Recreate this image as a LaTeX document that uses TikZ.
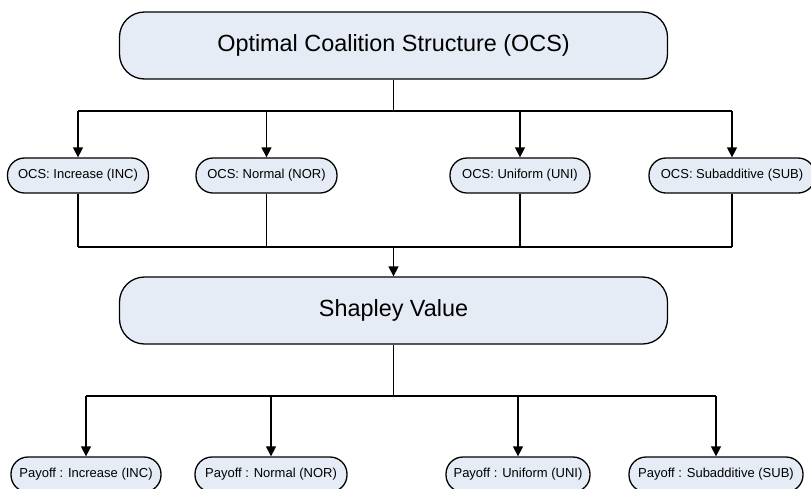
\documentclass[tikz,border=0pt]{standalone}
\usepackage{fontspec}
\setmainfont{Liberation Sans}
\usetikzlibrary{arrows.meta}
\definecolor{boxfill}{RGB}{230,236,246}
\begin{document}
\begin{tikzpicture}[x=1pt,y=-1pt,
 bigbox/.style={draw=black, line width=1.3pt, fill=boxfill, rounded corners=25pt, minimum width=548pt, minimum height=67pt, inner sep=0pt, font=\fontsize{23.4}{28}\selectfont},
 smallbox/.style={draw=black, line width=1.3pt, fill=boxfill, rounded corners=17pt, minimum height=35pt, inner sep=0pt, font=\fontsize{13}{15}\selectfont},
 conn/.style={line width=1.3pt},
 arr/.style={conn, -{Triangle[length=10pt,width=10pt]}}]
\useasboundingbox (0,0) rectangle (811,488);
\node[bigbox] (ocs) at (393.5,45.5) {Optimal Coalition Structure (OCS)};
\node[smallbox, minimum width=141pt] (inc) at (78,175.5) {OCS: Increase (INC)};
\node[smallbox, minimum width=141pt] (nor) at (266.5,175.5) {OCS: Normal (NOR)};
\node[smallbox, minimum width=140pt] (uni) at (520,175.5) {OCS: Uniform (UNI)};
\node[smallbox, minimum width=166pt] (sub) at (732,175.5) {OCS: Subadditive (SUB)};
\node[bigbox] (sv) at (393.5,310.5) {Shapley Value};
\node[smallbox, minimum width=150pt] (pinc) at (86,474.5) {Payoff : Increase (INC)};
\node[smallbox, minimum width=152pt] (pnor) at (271,474.5) {Payoff : Normal (NOR)};
\node[smallbox, minimum width=144pt] (puni) at (518,474.5) {Payoff : Uniform (UNI)};
\node[smallbox, minimum width=174pt] (psub) at (716,474.5) {Payoff : Subadditive (SUB)};
\coordinate (s1) at (393.5,111);
\coordinate (s2) at (393.5,247);
\coordinate (s3) at (393.5,396);
% top split
\draw[conn] (ocs.south) -- (s1);
\draw[conn] (inc.north |- s1) -- (sub.north |- s1);
\foreach \n in {inc,nor,uni,sub} \draw[arr] (\n.north |- s1) -- (\n.north);
% collector
\foreach \n in {inc,nor,uni,sub} \draw[conn] (\n.south) -- (\n.south |- s2);
\draw[conn] (inc.south |- s2) -- (sub.south |- s2);
\draw[arr] (s2) -- (sv.north);
% bottom split
\draw[conn] (sv.south) -- (s3);
\draw[conn] (pinc.north |- s3) -- (psub.north |- s3);
\foreach \n in {pinc,pnor,puni,psub} \draw[arr] (\n.north |- s3) -- (\n.north);
\end{tikzpicture}
\end{document}
